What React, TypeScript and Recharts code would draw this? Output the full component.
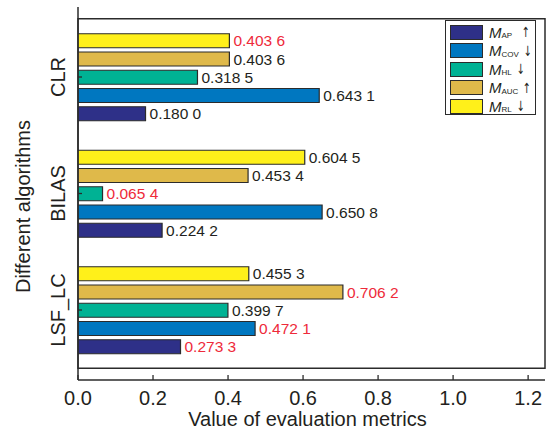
import React from 'react';
import { BarChart, Bar, XAxis, YAxis, LabelList, Legend, ReferenceArea } from 'recharts';

const categories = ['CLR', 'BILAS', 'LSF_LC'];
const valuesAP = [0.18, 0.2242, 0.2733];
const valuesCOV = [0.6431, 0.6508, 0.4721];
const valuesHL = [0.3185, 0.0654, 0.3997];
const valuesAUC = [0.4036, 0.4534, 0.7062];
const valuesRL = [0.4036, 0.6045, 0.4553];
const xTicks = [0, 0.2, 0.4, 0.6, 0.8, 1.0, 1.2];
const X_MAX = 1.245;

const metricKeys = ['AP', 'COV', 'HL', 'AUC', 'RL'];
const metricValues: Record<string, number[]> = {
  AP: valuesAP,
  COV: valuesCOV,
  HL: valuesHL,
  AUC: valuesAUC,
  RL: valuesRL,
};
const higherIsBetter: Record<string, boolean> = { AP: true, COV: false, HL: false, AUC: true, RL: false };

const COLORS: Record<string, string> = {
  AP: '#2E3088',
  COV: '#0077C0',
  HL: '#00B294',
  AUC: '#DFB94A',
  RL: '#FFF01A',
};

const FONT = '"Liberation Sans", Arial, Helvetica, sans-serif';
const TEXT = '#231f20';
const RED = '#EE2A3A';
const EDGE = '#2b2b2b';

const data = categories.map((name, i) => {
  const row: Record<string, any> = { name };
  metricKeys.forEach((k) => (row[k] = metricValues[k][i]));
  return row;
});

const best: Record<string, number> = {};
metricKeys.forEach((k) => {
  const v = metricValues[k];
  best[k] = higherIsBetter[k] ? Math.max(...v) : Math.min(...v);
});

const fmt = (v: number) => {
  const s = v.toFixed(4);
  return s.slice(0, s.length - 1) + ' ' + s.slice(s.length - 1);
};

const makeLabel = (key: string) => (props: any) => {
  const { x, y, width, height, value } = props;
  const isBest = Math.abs(Number(value) - best[key]) < 1e-9;
  return (
    <text
      x={Number(x) + Number(width) + 4}
      y={Number(y) + Number(height) / 2}
      dominantBaseline="central"
      fontFamily={FONT}
      fontSize={15.5}
      fill={isBest ? RED : TEXT}
    >
      {fmt(Number(value))}
    </text>
  );
};

const XTick = (props: any) => {
  const { x, y, payload } = props;
  return (
    <g>
      <line x1={x} y1={y} x2={x} y2={y - 5} stroke={EDGE} strokeWidth={1.3} />
      <text x={x} y={y + 25} textAnchor="middle" fontFamily={FONT} fontSize={20} fill={TEXT}>
        {Number(payload.value).toFixed(1)}
      </text>
    </g>
  );
};

const YTick = (props: any) => {
  const { x, y, payload } = props;
  return (
    <g>
      <line x1={x} y1={y} x2={x + 4} y2={y} stroke={EDGE} strokeWidth={1.3} />
      <text
        transform={`translate(${x - 13},${y}) rotate(-90)`}
        textAnchor="middle"
        fontFamily={FONT}
        fontSize={20}
        fill={TEXT}
      >
        {payload.value}
      </text>
    </g>
  );
};

const YLabel = (props: any) => {
  const vb = props.viewBox || { x: 0, y: 7, width: 78, height: 373 };
  const cy = vb.y + vb.height / 2 + 13;
  return (
    <text
      transform={`translate(30,${cy}) rotate(-90)`}
      textAnchor="middle"
      fontFamily={FONT}
      fontSize={20}
      fill={TEXT}
    >
      Different algorithms
    </text>
  );
};

const XLabel = (props: any) => {
  const vb = props.viewBox || { x: 78, y: 380, width: 467, height: 54 };
  const cx = vb.x + vb.width / 2 - 4;
  return (
    <text x={cx} y={426} textAnchor="middle" fontFamily={FONT} fontSize={20} fill={TEXT}>
      Value of evaluation metrics
    </text>
  );
};

const LegendBox = () => (
  <div
    style={{
      border: `1.5px solid ${EDGE}`,
      background: '#fff',
      width: 85,
      height: 91,
      padding: '2px 0 0 4px',
      boxSizing: 'content-box',
      fontFamily: FONT,
      color: TEXT,
    }}
  >
    {metricKeys.map((k) => (
      <div key={k} style={{ display: 'flex', alignItems: 'center', height: 18.5 }}>
        <div
          style={{
            width: 31,
            height: 13,
            background: COLORS[k],
            border: `1px solid ${EDGE}`,
            marginRight: 6,
            flexShrink: 0,
          }}
        />
        <span style={{ fontStyle: 'italic', fontSize: 15, lineHeight: '15px' }}>M</span>
        <span style={{ fontSize: 8, position: 'relative', top: 4, lineHeight: '8px' }}>{k}</span>
        <span
          style={{
            fontFamily: '"DejaVu Sans", sans-serif',
            fontSize: 14,
            marginLeft: k === 'AP' ? 8 : 3,
            lineHeight: '14px',
            transform: 'scaleX(0.7)',
            display: 'inline-block',
          }}
        >
          {higherIsBetter[k] ? '\u2191' : '\u2193'}
        </span>
      </div>
    ))}
  </div>
);

const barOrder = ['RL', 'AUC', 'HL', 'COV', 'AP'];

export default function App() {
  return (
    <div style={{ position: 'absolute', left: 0, top: 0, width: 554, height: 434, background: '#fff' }}>
      <BarChart
        width={554}
        height={434}
        data={data}
        layout="vertical"
        margin={{ top: 7, right: 9, left: 0, bottom: 0 }}
        barSize={14}
        barGap={4.25}
      >
        <XAxis
          type="number"
          domain={[0, X_MAX]}
          ticks={xTicks}
          allowDataOverflow
          height={54}
          tickSize={0}
          tickMargin={0}
          tickLine={false}
          tick={<XTick />}
          axisLine={{ stroke: EDGE, strokeWidth: 1.5 }}
          label={<XLabel />}
        />
        <YAxis
          type="category"
          dataKey="name"
          width={78}
          padding={{ top: 11.75, bottom: 11.75 }}
          tickSize={0}
          tickMargin={0}
          tickLine={false}
          tick={<YTick />}
          axisLine={{ stroke: EDGE, strokeWidth: 1.5 }}
          label={<YLabel />}
        />
        <ReferenceArea
          x1={0}
          x2={X_MAX}
          fill="none"
          fillOpacity={0}
          stroke={EDGE}
          strokeWidth={1.5}
          ifOverflow="visible"
        />
        <Legend
          layout="vertical"
          align="center"
          verticalAlign="middle"
          wrapperStyle={{ left: 445, top: 20, width: 92 }}
          content={<LegendBox />}
        />
        {barOrder.map((k) => (
          <Bar
            key={k}
            dataKey={k}
            fill={COLORS[k]}
            stroke={EDGE}
            strokeWidth={1.2}
            isAnimationActive={false}
          >
            <LabelList dataKey={k} content={makeLabel(k)} />
          </Bar>
        ))}
      </BarChart>
    </div>
  );
}
